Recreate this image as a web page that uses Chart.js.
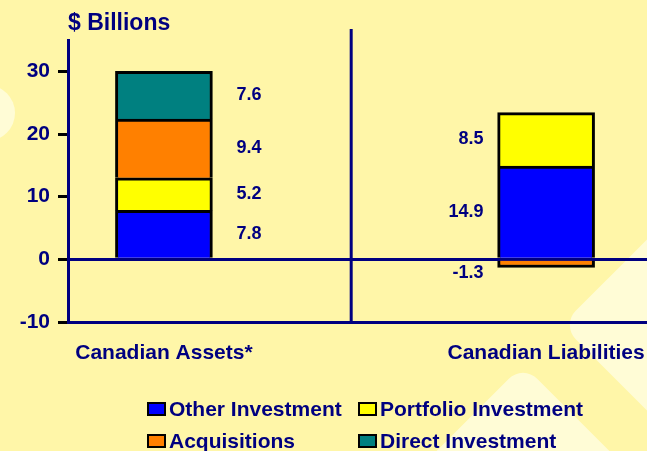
<!DOCTYPE html>
<html lang="en">
<head>
<meta charset="UTF-8">
<title>Canadian Assets and Liabilities</title>
<script src="https://cdn.jsdelivr.net/npm/chart.js"></script>
<style>
    body{
        margin: 0;
        background: #fff6a8;
        font-family: "Liberation Sans", Arial, sans-serif;
    }
    .wrap{
        position: relative;
        width: 647px;
        height: 451px;
        overflow: hidden;
    }
    .deco{
        position: absolute;
        background: #fffcd6;
    }
    #circle{ left: -41px; top: 85px; width: 56px; height: 56px; border-radius: 50%; }
    #diamondA{ left: 603px; top: 225px; width: 200px; height: 200px; transform: rotate(45deg); border-radius: 20px; }
    #diamondB{ left: 423px; top: 406px; width: 200px; height: 200px; transform: rotate(45deg); border-radius: 20px; }
    canvas{ position: absolute; left: 0; top: 0; }
    #legend{
        position: absolute;
        left: 147px;
        top: 393px;
        display: grid;
        grid-template-columns: 211px auto;
    }
    #legend .item{
        display: flex;
        align-items: center;
        height: 32px;
        color: #000080;
        font-weight: bold;
        font-size: 21px;
        white-space: nowrap;
    }
    #legend .box{
        width: 15px;
        height: 10px;
        border: 2.5px solid #000;
        margin-right: 3px;
    }
</style>
</head>
<body>
<div class="wrap">
    <div class="deco" id="circle"></div>
    <div class="deco" id="diamondA"></div>
    <div class="deco" id="diamondB"></div>
    <canvas id="flows" width="647" height="451"></canvas>
    <div id="legend"></div>
</div>

<script>
    const categories = ['Canadian Assets*', 'Canadian Liabilities'];
    const seriesNames = ['Other Investment', 'Portfolio Investment', 'Acquisitions', 'Direct Investment'];
    const otherInvestment = [7.8, 14.9];
    const portfolioInvestment = [5.2, 8.5];
    const acquisitions = [9.4, -1.3];
    const directInvestment = [7.6, null];
    const yTicks = [-10, 0, 10, 20, 30];

    const seriesValues = [otherInvestment, portfolioInvestment, acquisitions, directInvestment];
    const seriesColors = ['#0000ff', '#ffff00', '#ff8000', '#008080'];
    const navy = '#000080';
    const dividerAt = 0.49;

    // legend in a 2x2 grid, order as in the picture
    const legend = document.getElementById('legend');
    seriesNames.forEach((name, i) => {
        const item = document.createElement('div');
        item.className = 'item';
        item.innerHTML = '<span class="box" style="background:' + seriesColors[i] + '"></span>' + name;
        legend.appendChild(item);
    });

    // title, divider and value labels
    const extras = {
        id: 'extras',
        beforeDatasetsDraw(chart) {
            const c = chart.ctx;
            const area = chart.chartArea;
            const x = chart.scales.x.getPixelForValue(dividerAt);
            c.save();
            c.strokeStyle = navy;
            c.lineWidth = 3;
            c.beginPath();
            c.moveTo(x, area.top - 11);
            c.lineTo(x, area.bottom);
            c.stroke();
            c.fillStyle = navy;
            c.font = 'bold 23px "Liberation Sans", Arial, sans-serif';
            c.textAlign = 'left';
            c.textBaseline = 'alphabetic';
            c.fillText('$ Billions', area.left, 30);
            c.restore();
        },
        afterDatasetsDraw(chart) {
            const c = chart.ctx;
            c.save();
            c.fillStyle = navy;
            c.font = 'bold 18px "Liberation Sans", Arial, sans-serif';
            c.textBaseline = 'middle';
            chart.data.datasets.forEach((ds, d) => {
                const meta = chart.getDatasetMeta(d);
                ds.data.forEach((pt, i) => {
                    if (pt.y === null) return;
                    const el = meta.data[i];
                    const half = el.width / 2;
                    let y = (el.y + el.base) / 2;
                    if (pt.y < 0) y = Math.max(el.y, el.base) + 6;
                    if (i === 0) {
                        c.textAlign = 'left';
                        c.fillText(pt.y.toFixed(1), el.x + half + 24, y);
                    } else {
                        c.textAlign = 'right';
                        c.fillText(pt.y.toFixed(1), el.x - half - 14, y);
                    }
                });
            });
            c.restore();
        }
    };

    const ctx = document.getElementById('flows').getContext('2d');
    new Chart(ctx, {
        type: 'bar',
        data: {
            datasets: seriesNames.map((name, d) => ({
                label: name,
                data: seriesValues[d].map((v, i) => ({ x: i, y: v })),
                backgroundColor: seriesColors[d],
                borderColor: '#000',
                borderWidth: 3,
                borderSkipped: 'start',
                barThickness: 97,
            })),
        },
        options: {
            responsive: false,
            animation: false,
            layout: { padding: { top: 40, right: 0, bottom: 89, left: 0 } },
            plugins: {
                legend: { display: false },
                tooltip: { enabled: false },
            },
            scales: {
                x: {
                    type: 'linear',
                    min: -0.251,
                    max: 1.264,
                    offset: false,
                    stacked: true,
                    grid: { display: false, offset: false },
                    border: { display: false },
                    afterBuildTicks: s => { s.ticks = categories.map((c, i) => ({ value: i })); },
                    afterFit: s => { s.height = 40; s.paddingLeft = 0; s.paddingRight = 0; },
                    ticks: {
                        autoSkip: false,
                        maxRotation: 0,
                        padding: 11,
                        color: navy,
                        font: { family: '"Liberation Sans", Arial, sans-serif', size: 21, weight: 'bold' },
                        callback: v => categories[v] ?? '',
                    },
                },
                y: {
                    stacked: true,
                    min: -10,
                    max: 35,
                    z: 1,
                    afterBuildTicks: s => { s.ticks = yTicks.map(v => ({ value: v })); },
                    afterFit: s => { s.width = 68; },
                    ticks: {
                        padding: 8,
                        color: navy,
                        font: { family: '"Liberation Sans", Arial, sans-serif', size: 21, weight: 'bold' },
                    },
                    grid: {
                        color: c => (c.tick && (c.tick.value === 0 || c.tick.value === -10)) ? navy : 'rgba(0,0,0,0)',
                        lineWidth: 3,
                        tickColor: '#000',
                        tickLength: 10,
                        tickWidth: 3,
                    },
                    border: { color: navy, width: 3 },
                },
            },
        },
        plugins: [extras],
    });
</script>
</body>
</html>
